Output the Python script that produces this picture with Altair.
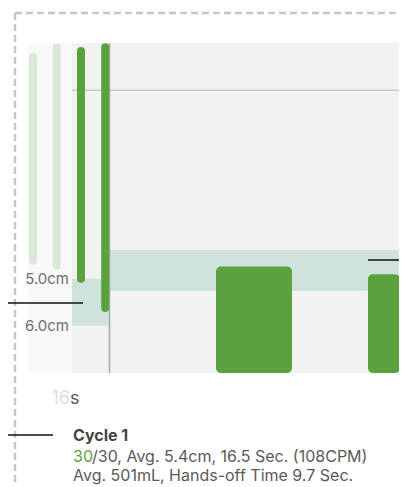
import altair as alt
import pandas as pd

# ---- data ----
# compressions: time (s), release depth (cm), compression depth (cm), faded (earlier cycle)
comp_time = [0.58, 1.13, 1.69, 2.25]
comp_top = [0.30, 0.09, 0.17, 0.09]
comp_depth = [4.62, 4.72, 5.00, 5.62]
comp_faded = ["old", "old", "new", "new"]

# ventilations: start/end time (s), volume (mL)
vent_start = [4.815, 8.333]
vent_end = [6.574, 9.074]
vent_volume = [520, 482]

# target bands
depth_target = [5.0, 6.0]          # cm
volume_target = [400, 600]         # mL
depth_labels = ["5.0cm", "6.0cm"]

# panel extents
panel_time = [1.481, 9.074]
faded_time = [0.463, 1.481]
depth_range = [0.0, 7.0]
ref_depth = 1.0
cycle_boundary = 2.35

title = "Cycle 1"
line2_hi = "30"
line2_rest = "/30, Avg. 5.4cm, 16.5 Sec. (108CPM)"
line3 = "Avg. 501mL, Hands-off Time 9.7 Sec."
tick_num = "16"
tick_unit = "s"

W, H = 391, 478
PX_S = 43.2
PX_CM = 330 / 7
PX_ML = 0.205
XS = alt.Scale(domain=[0, W / PX_S], nice=False, zero=False)
DS = alt.Scale(domain=[-35 / PX_CM, (H - 35) / PX_CM], reverse=True, nice=False, zero=False)
VS = alt.Scale(domain=[(365 - H) / PX_ML, 365 / PX_ML], nice=False, zero=False)

GREEN = "#5ba13d"
LIGHT_GREEN = "#dbe8d5"
TEAL = "#cfe3dc"
FONT = "Inter"

comp = pd.DataFrame({"t": comp_time, "top": comp_top, "depth": comp_depth, "state": comp_faded})
vent = pd.DataFrame({"t0": vent_start, "t1": vent_end, "vol": vent_volume})

bg_faded = alt.Chart(pd.DataFrame({"t0": [faded_time[0]], "t1": [faded_time[1]],
                                   "d0": [depth_range[0]], "d1": [depth_range[1]]})).mark_rect(
    color="#f8f8f8").encode(
    x=alt.X("t0:Q", scale=XS, axis=None), x2="t1",
    y=alt.Y("d0:Q", scale=DS, axis=None), y2="d1")

bg = alt.Chart(pd.DataFrame({"t0": [panel_time[0]], "t1": [panel_time[1]],
                             "d0": [depth_range[0]], "d1": [depth_range[1]]})).mark_rect(
    color="#f2f2f2").encode(
    x=alt.X("t0:Q", scale=XS, axis=None), x2="t1",
    y=alt.Y("d0:Q", scale=DS, axis=None), y2="d1")

band_depth = alt.Chart(pd.DataFrame({"t0": [panel_time[0]], "t1": [cycle_boundary],
                                     "d0": [depth_target[0]], "d1": [depth_target[1]]})).mark_rect(
    color=TEAL).encode(
    x=alt.X("t0:Q", scale=XS, axis=None), x2="t1",
    y=alt.Y("d0:Q", scale=DS, axis=None), y2="d1")

band_vol = alt.Chart(pd.DataFrame({"t0": [cycle_boundary], "t1": [panel_time[1]],
                                   "v0": [volume_target[0]], "v1": [volume_target[1]]})).mark_rect(
    color=TEAL).encode(
    x=alt.X("t0:Q", scale=XS, axis=None), x2="t1",
    y=alt.Y("v0:Q", scale=VS, axis=None), y2="v1")

hline = alt.Chart(pd.DataFrame({"t0": [panel_time[0]], "t1": [panel_time[1]], "d": [ref_depth]})).mark_rule(
    color="#c9c9c9", strokeWidth=1.5).encode(
    x=alt.X("t0:Q", scale=XS, axis=None), x2="t1",
    y=alt.Y("d:Q", scale=DS, axis=None))

vline = alt.Chart(pd.DataFrame({"t": [cycle_boundary], "d0": [depth_range[0]], "d1": [depth_range[1]]})).mark_rule(
    color="#a9a9a9", strokeWidth=1.5).encode(
    x=alt.X("t:Q", scale=XS, axis=None),
    y=alt.Y("d0:Q", scale=DS, axis=None), y2="d1")

bars = alt.Chart(comp).mark_rule(strokeWidth=8, strokeCap="round").encode(
    x=alt.X("t:Q", scale=XS, axis=None),
    y=alt.Y("top:Q", scale=DS, axis=None), y2="depth",
    color=alt.Color("state:N", scale=alt.Scale(domain=["old", "new"], range=[LIGHT_GREEN, GREEN]), legend=None))

vents = alt.Chart(vent).mark_rect(color=GREEN, cornerRadius=5).encode(
    x=alt.X("t0:Q", scale=XS, axis=None), x2="t1",
    y=alt.Y("vol:Q", scale=VS, axis=None), y2=alt.datum(0))

labels = alt.Chart(pd.DataFrame({"d": depth_target, "lab": depth_labels})).mark_text(
    align="right", baseline="middle", font=FONT, fontSize=15, color="#6e6e6e").encode(
    x=alt.value(61), y=alt.Y("d:Q", scale=DS, axis=None), text="lab:N")

tick_a = alt.Chart(pd.DataFrame({"s": [tick_num]})).mark_text(
    align="right", baseline="alphabetic", font=FONT, fontSize=18, color="#dedede").encode(
    x=alt.value(62), y=alt.value(396), text="s:N")
tick_b = alt.Chart(pd.DataFrame({"s": [tick_unit]})).mark_text(
    align="left", baseline="alphabetic", font=FONT, fontSize=18, color="#555555").encode(
    x=alt.value(62), y=alt.value(396), text="s:N")

t1 = alt.Chart(pd.DataFrame({"s": [title]})).mark_text(
    align="left", baseline="alphabetic", font=FONT, fontSize=16, fontWeight="bold", color="#444444").encode(
    x=alt.value(65), y=alt.value(433), text="s:N")
t2a = alt.Chart(pd.DataFrame({"s": [line2_hi]})).mark_text(
    align="left", baseline="alphabetic", font=FONT, fontSize=16, color=GREEN).encode(
    x=alt.value(65), y=alt.value(454), text="s:N")
t2b = alt.Chart(pd.DataFrame({"s": [line2_rest]})).mark_text(
    align="left", baseline="alphabetic", font=FONT, fontSize=16, color="#5a5a5a").encode(
    x=alt.value(84), y=alt.value(454), text="s:N")
t3 = alt.Chart(pd.DataFrame({"s": [line3]})).mark_text(
    align="left", baseline="alphabetic", font=FONT, fontSize=16, color="#5a5a5a").encode(
    x=alt.value(65), y=alt.value(473), text="s:N")

# UI chrome: dashed frame and callout connectors
frame_top = alt.Chart(pd.DataFrame({"k": [0]})).mark_rule(
    color="#c6c6c6", strokeWidth=2.5, strokeDash=[7, 4]).encode(
    x=alt.value(7), x2=alt.value(W), y=alt.value(5))
frame_left = alt.Chart(pd.DataFrame({"k": [0]})).mark_rule(
    color="#c6c6c6", strokeWidth=2.5, strokeDash=[7, 4]).encode(
    x=alt.value(7), y=alt.value(5), y2=alt.value(H))
conn = alt.Chart(pd.DataFrame({"x0": [0, 0, 360], "x1": [75, 45, W], "y": [295, 427, 252]})).mark_rule(
    color="#111111", strokeWidth=1.5).encode(
    x=alt.X("x0:Q", scale=alt.Scale(domain=[0, W], nice=False, zero=False), axis=None), x2="x1",
    y=alt.Y("y:Q", scale=alt.Scale(domain=[0, H], reverse=True, nice=False, zero=False), axis=None))

chart = alt.layer(
    frame_top, frame_left,
    bg_faded, bg, band_depth, band_vol, hline, vline, bars, vents,
    labels, tick_a, tick_b, t1, t2a, t2b, t3, conn
).resolve_scale(y="independent", x="independent").properties(
    width=W, height=H, autosize="none", padding=0, background="white"
).configure_view(stroke=None)

chart.save("out.html", embed_options={"renderer": "svg", "actions": False})
